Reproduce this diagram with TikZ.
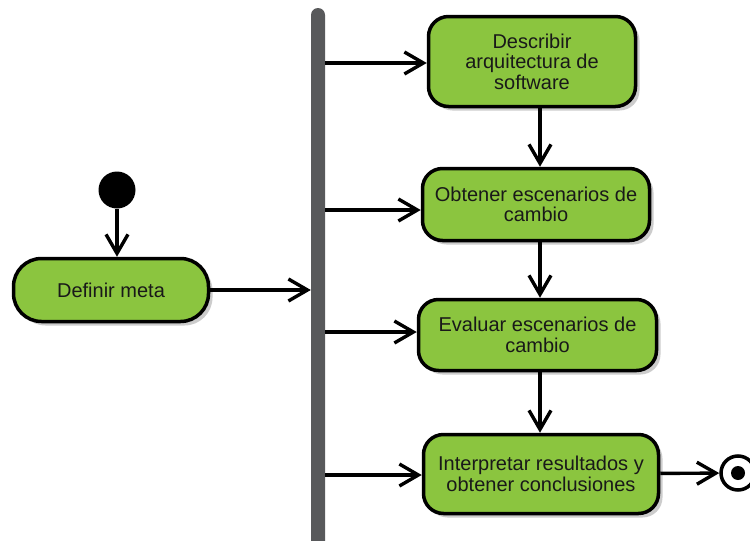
\documentclass[tikz,border=0pt]{standalone}
\usepackage{fontspec}
\setmainfont{Liberation Sans}
\usetikzlibrary{arrows.meta,shadows,calc}
\definecolor{actgreen}{RGB}{139,197,63}
\definecolor{bargray}{RGB}{88,89,91}
\begin{document}
\begin{tikzpicture}[x=1pt,y=-1pt,
  act/.style={draw=black, line width=3.5pt, fill=actgreen, rounded corners=20pt, align=center,
    font=\fontsize{20}{20.5}\selectfont, text=black!90, inner sep=0pt,
    drop shadow={shadow xshift=4pt, shadow yshift=-4pt, fill=black, opacity=0.2}},
  flow/.style={line width=3.4pt, -{Straight Barb[length=19pt,width=22pt,line width=3.4pt]}},
]
\clip (0,0) rectangle (750,541);
\fill[white] (0,0) rectangle (750,541);
% fork bar
\node[fill=bargray, rounded corners=7pt, minimum width=14pt, minimum height=560pt, inner sep=0pt] (bar) at (318,288) {};
% activities
\node[act, minimum width=207pt, minimum height=90pt] (b1) at (532,61.5) {Describir\\arquitectura de\\software};
\node[act, minimum width=227pt, minimum height=72pt] (b2) at (536,204.5) {Obtener escenarios de\\cambio};
\node[act, minimum width=238pt, minimum height=71pt] (b3) at (537.5,335) {Evaluar escenarios de\\cambio};
\node[act, minimum width=235pt, minimum height=79pt] (b4) at (541,474) {Interpretar resultados y\\obtener conclusiones};
\node[act, minimum width=195pt, minimum height=63pt, rounded corners=28pt] (meta) at (111,290) {Definir meta};
% start / end
\node[circle, fill=black, minimum size=37pt, inner sep=0pt] (start) at (117,190) {};
\node[circle, draw=black, line width=3.5pt, fill=white, minimum size=34pt, inner sep=0pt] (end) at (738,473) {};
\node[circle, fill=black, minimum size=14pt, inner sep=0pt] (enddot) at (end.center) {};
% helper coordinates
\coordinate (vx) at (540,0);
\coordinate (y1) at (0,63);
\coordinate (y2) at (0,210);
\coordinate (y3) at (0,332);
\coordinate (y4) at (0,475);
% connectors
\draw[flow] (start) -- (start |- meta.north);
\draw[flow] (meta) -- (meta -| bar.west);
\draw[flow] (bar.east |- y1) -- (b1.west |- y1);
\draw[flow] (bar.east |- y2) -- (b2.west |- y2);
\draw[flow] (bar.east |- y3) -- (b3.west |- y3);
\draw[flow] (bar.east |- y4) -- (b4.west |- y4);
\draw[flow] (vx |- b1.south) -- (vx |- b2.north);
\draw[flow] (vx |- b2.south) -- (vx |- b3.north);
\draw[flow] (vx |- b3.south) -- (vx |- b4.north);
\draw[flow] (b4) -- (end);
\end{tikzpicture}
\end{document}
